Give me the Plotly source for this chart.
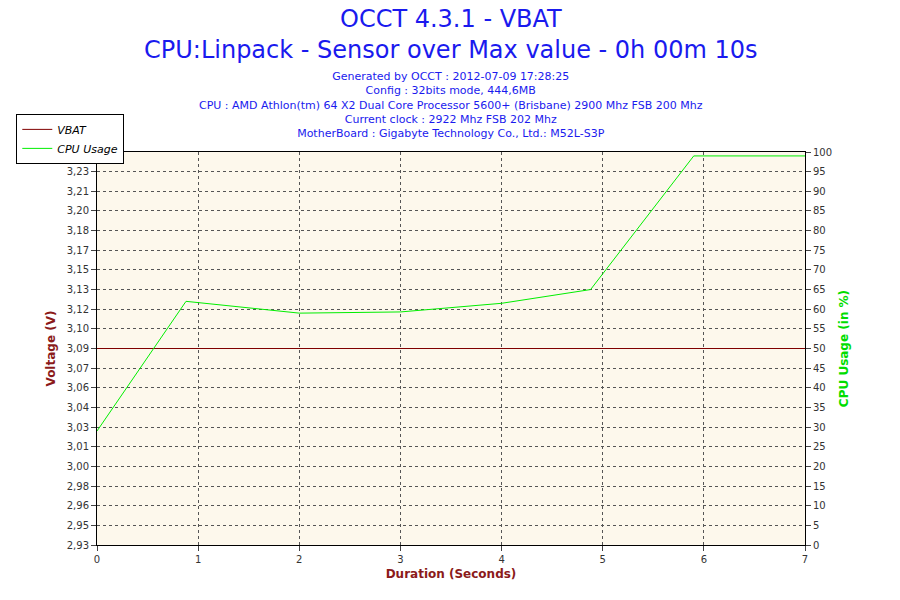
import plotly.graph_objects as go

vbat_x = [0, 7]
vbat_y = [3.085, 3.085]
cpu_x = [0, 0.88, 2, 3, 4, 4.88, 5.9, 7]
cpu_y = [29, 62, 59, 59.3, 61.5, 65, 99, 99]
left_vals = [2.93 + i * 0.0155 for i in range(21)]
left_labels = ["2,93","2,95","2,96","2,98","3,00","3,01","3,03","3,04","3,06","3,07","3,09",
               "3,10","3,12","3,13","3,15","3,17","3,18","3,20","3,21","3,23","3,24"]

fig = go.Figure()
fig.add_trace(go.Scatter(x=vbat_x, y=vbat_y, mode="lines", name="<i>VBAT</i>",
                         line=dict(color="#800000", width=1)))
fig.add_trace(go.Scatter(x=cpu_x, y=cpu_y, mode="lines", name="<i>CPU Usage</i>", yaxis="y2",
                         line=dict(color="#00ee00", width=1)))

blue = "#1a1aee"
fig.update_layout(
    width=900, height=600, paper_bgcolor="white", plot_bgcolor="#fdf8ec",
    margin=dict(l=89, r=103, t=144, b=63, autoexpand=False),
    font=dict(family="DejaVu Sans", size=10, color="#333"),
    annotations=[
        dict(text="OCCT 4.3.1 - VBAT", x=0.5, y=1.338, xref="paper", yref="paper", showarrow=False,
             font=dict(size=24, color=blue), yanchor="middle"),
        dict(text="CPU:Linpack - Sensor over Max value - 0h 00m 10s", x=0.5, y=1.26, xref="paper",
             yref="paper", showarrow=False, font=dict(size=24, color=blue), yanchor="middle"),
        dict(text="Generated by OCCT : 2012-07-09 17:28:25<br>Config : 32bits mode, 444,6MB<br>"
             "CPU : AMD Athlon(tm) 64 X2 Dual Core Processor 5600+ (Brisbane) 2900 Mhz FSB 200 Mhz<br>"
             "Current clock : 2922 Mhz FSB 202 Mhz<br>MotherBoard : Gigabyte Technology Co., Ltd.: M52L-S3P",
             x=0.5, y=1.213, xref="paper", yref="paper", showarrow=False, yanchor="top",
             font=dict(size=11, color=blue)),
    ],
    xaxis=dict(range=[0, 7], dtick=1, showgrid=True, gridcolor="#555", griddash="dot",
               linecolor="#000", mirror=True, ticks="outside", zeroline=False, automargin=False,
               title=dict(text="<b>Duration (Seconds)</b>", font=dict(color="#8b1a1a", size=12), standoff=5)),
    yaxis=dict(range=[2.93, 3.24], tickvals=left_vals, ticktext=left_labels, showgrid=True,
               gridcolor="#555", griddash="dot", linecolor="#000", mirror=True, ticks="outside",
               zeroline=False, automargin=False,
               title=dict(text="<b>Voltage (V)</b>", font=dict(color="#8b1a1a", size=12), standoff=8)),
    yaxis2=dict(range=[0, 100], dtick=5, overlaying="y", side="right", showgrid=False,
                linecolor="#000", ticks="outside", zeroline=False, automargin=False,
                title=dict(text="<b>CPU Usage (in %)</b>", font=dict(color="#00dd00", size=12), standoff=8)),
    legend=dict(x=-0.114, y=1.097, xanchor="left", yanchor="top", bordercolor="#000", borderwidth=1,
                bgcolor="white", font=dict(size=11, color="#000"), tracegroupgap=0),
    showlegend=True,
)
fig.write_html("out.html")
